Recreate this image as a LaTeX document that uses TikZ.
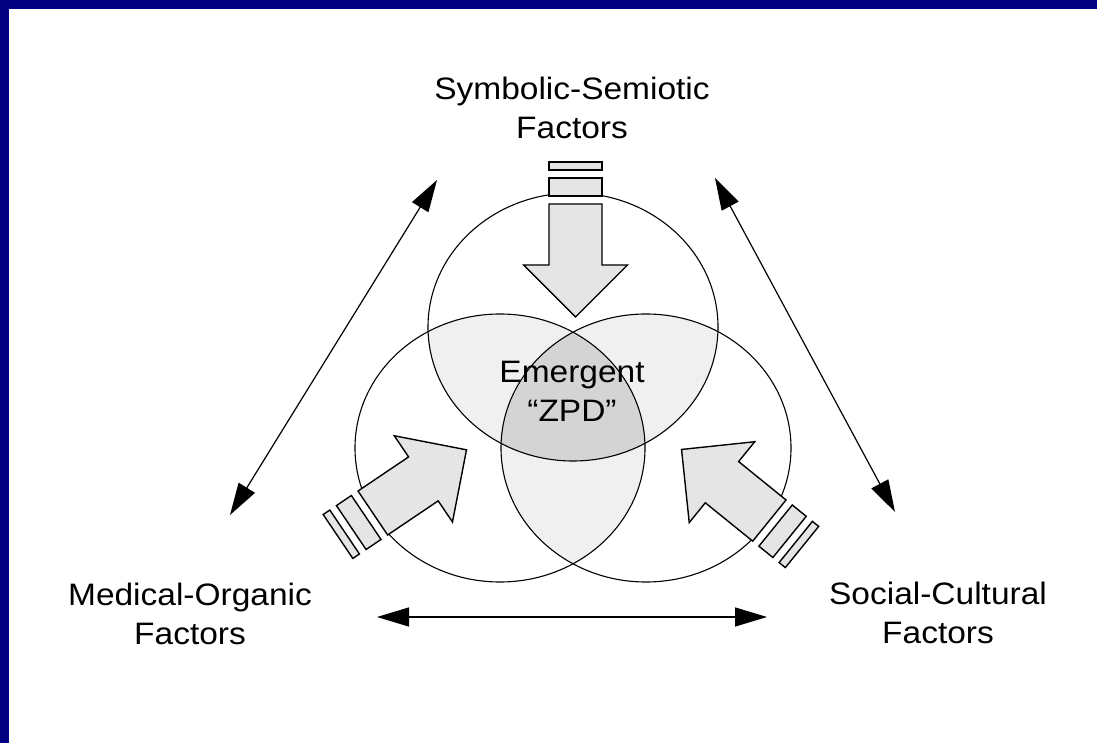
\documentclass[tikz,border=0pt]{standalone}
\usepackage{fontspec}
\setmainfont{Liberation Sans}
\usepackage{tikz}
\usetikzlibrary{arrows.meta}
\usetikzlibrary{positioning}
\tikzset{label/.style = {align = center, font = \fontsize{31}{39}\selectfont, xscale = 1.08, inner sep = 0}}
\tikzset{link/.style = {line width = 1.2pt, {Triangle[length=32pt, width=19pt]}-{Triangle[length=32pt, width=19pt]}}}
\tikzset{blockfill/.style = {fill = mblock, draw = black, line width = 1.4pt, line join = miter}}
\definecolor{mnavy}{rgb}{0, 0, 0.5}
\definecolor{mlens}{gray}{0.94}
\definecolor{mcore}{gray}{0.83}
\definecolor{mblock}{gray}{0.9}

\begin{document}
\begin{tikzpicture}[x = 1pt, y = 1pt]
      \useasboundingbox (0, 0) rectangle (1097, 743);
      \fill [white] (0, 0) rectangle (1097, 743);
      \fill [mnavy] (0, 734) rectangle (1097, 743);
      \fill [mnavy] (0, 0) rectangle (9, 743);

      % overlaps
      \begin{scope}
        \clip (500, 295) ellipse (145 and 134);
        \fill [mlens] (646, 295) ellipse (145 and 134);
      \end{scope}
      \begin{scope}
        \clip (573, 416) ellipse (145 and 134);
        \fill [mlens] (500, 295) ellipse (145 and 134);
        \fill [mlens] (646, 295) ellipse (145 and 134);
        \clip (500, 295) ellipse (145 and 134);
        \fill [mcore] (646, 295) ellipse (145 and 134);
      \end{scope}

      \draw [line width = 1.1pt] (573, 416) ellipse (145 and 134);
      \draw [line width = 1.1pt] (500, 295) ellipse (145 and 134);
      \draw [line width = 1.1pt] (646, 295) ellipse (145 and 134);

      % block arrows
      \foreach \px/\py/\ang in {575.5/581/-90, 338/206.5/34, 802/196/141} {
        \begin{scope}[shift = {(\px, \py)}, rotate = \ang]
          \filldraw [blockfill] (0, -26.5) rectangle (8, 26.5);
          \filldraw [blockfill] (16, -26.5) rectangle (34, 26.5);
          \filldraw [blockfill] (42, -26.5) -- (103, -26.5) -- (103, -52) -- (155, 0)
            -- (103, 52) -- (103, 26.5) -- (42, 26.5) -- cycle;
        \end{scope}
      }

      \node [label, anchor = base] (zpd) at (572, 321) {Emergent\\“ZPD”};

      \node [label, anchor = base] (symb) at (572, 604) {Symbolic-Semiotic\\Factors};
      \node [label, anchor = base] (medic) at (190, 98) {Medical-Organic\\Factors};
      \node [label, anchor = base] (social) at (938, 99) {Social-Cultural\\Factors};

      \coordinate (tl1) at (437, 563);
      \coordinate (tl2) at (230, 228);
      \coordinate (tr1) at (715, 565);
      \coordinate (tr2) at (895, 231);
      \coordinate (bl) at (377, 126);
      \coordinate (br) at (767, 126);

      \draw [link] (tl1) -- (tl2);
      \draw [link] (tr1) -- (tr2);
      \draw [link] (bl) -- (br);
    \end{tikzpicture}
\end{document}
